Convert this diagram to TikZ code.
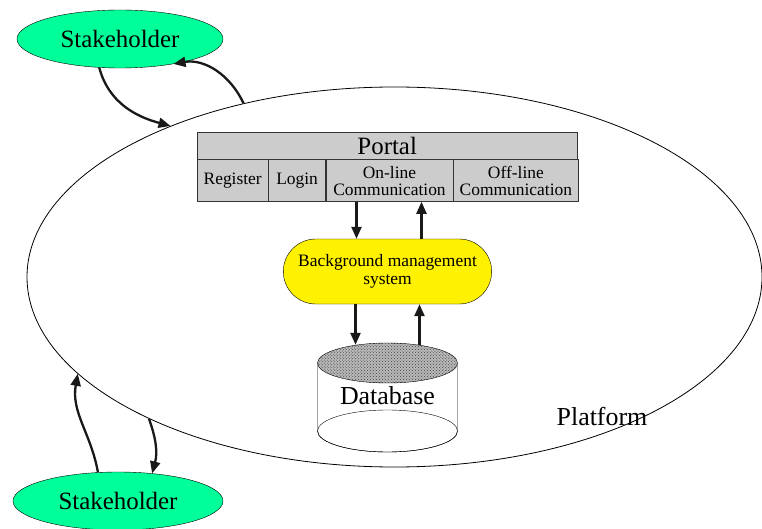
\documentclass[tikz,border=0pt]{standalone}
\usepackage{fontspec}
\setmainfont{Liberation Serif}
\usetikzlibrary{shapes.geometric}
\usetikzlibrary{shapes.misc}
\usetikzlibrary{arrows.meta}
\usetikzlibrary{patterns}
\definecolor{stakegreen}{RGB}{0,255,153}
\definecolor{cellgray}{RGB}{204,204,204}

\begin{document}
\begin{tikzpicture}[x=1bp, y=-1bp,
    stake/.style={ellipse, draw, fill=stakegreen, minimum height=58bp, inner sep=0pt, font=\fontsize{25}{28}\selectfont},
    cell/.style={draw=black!80, fill=cellgray, anchor=north west, minimum height=42bp, inner sep=0pt, align=center, font=\fontsize{17.5}{17}\selectfont},
    flow/.style={line width=2.3bp, black!90, -{Triangle[length=12bp,width=10bp]}}]
            \useasboundingbox (0,0) rectangle (762,529);

            % Platform
            \node[ellipse, draw, line width=0.8bp, minimum width=735bp, minimum height=380bp, inner sep=0pt] (platform) at (394.5,277) {};
            \node[font=\fontsize{26}{28}\selectfont] (platformlabel) at (602,417) {Platform};

            % Stakeholders
            \node[stake, minimum width=206bp] (stakeA) at (120,39) {Stakeholder};
            \node[stake, minimum width=210bp] (stakeB) at (118,501) {Stakeholder};

            % Portal
            \node[cell, minimum width=380bp, minimum height=27bp, font=\fontsize{25}{28}\selectfont] (portal) at (197,132) {Portal};
            \node[cell, minimum width=71bp] (register) at (portal.south west) {Register};
            \node[cell, minimum width=57bp] (login) at (register.north east) {Login};
            \node[cell, minimum width=127bp] (online) at (login.north east) {On-line\\Communication};
            \node[cell, minimum width=125bp] (offline) at (online.north east) {Off-line\\Communication};

            % Background management system
            \node[rounded rectangle, draw, fill=yellow, minimum width=215bp, minimum height=65bp, align=center, font=\fontsize{17.5}{18}\selectfont] (bms) at (387.5,271.5) {Background management\\system};

            % Database
            \draw[fill=white] (317.5,363) -- (317.5,431) arc[start angle=180, end angle=360, x radius=70bp, y radius=21bp] -- (457.5,363);
            \draw (387.5,431) ellipse[x radius=70bp, y radius=21bp];
            \node[ellipse, draw, minimum width=140bp, minimum height=40bp, inner sep=0pt, preaction={fill=gray!55}, pattern=crosshatch dots, pattern color=black!75] (dbtop) at (387.5,363) {};
            \node[font=\fontsize{26}{28}\selectfont] (db) at (387.5,396) {Database};

            % Arrows
            \draw[flow] ([xshift=-33bp]online.south) -- ([xshift=-33bp]online.south |- bms.north);
            \draw[flow] ([xshift=32bp]online.south |- bms.north) -- ([xshift=32bp]online.south);
            \draw[flow] ([xshift=-32bp]bms.south) -- ([xshift=-32bp,yshift=-2bp]dbtop.north);
            \draw[flow] ([xshift=32bp,yshift=-2bp]dbtop.north) -- ([xshift=32bp]bms.south);

            \draw[flow] (stakeA.234) to[out=-75, in=165] (platform.146.7);
            \draw[flow] (platform.131.4) to[out=115, in=10] (stakeA.-25);
            \draw[flow] (stakeB.125) to[out=100, in=-100] (platform.197.6);
            \draw[flow] (platform.210.2) to[out=-70, in=75] (stakeB.39);

        \end{tikzpicture}
\end{document}
